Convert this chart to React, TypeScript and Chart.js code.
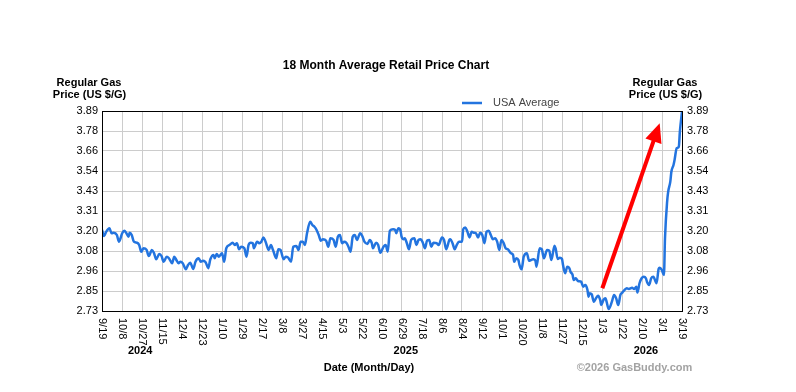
import { useEffect, useRef } from 'react';
import { Chart, registerables } from 'chart.js';

Chart.register(...registerables);

const FONT = "Arial, 'Liberation Sans', sans-serif";

const chartTitle = '18 Month Average Retail Price Chart';
const seriesLabel = 'USA Average';
const yAxisTitle = ['Regular Gas', 'Price (US $/G)'];
const xAxisTitle = 'Date (Month/Day)';
const credit = '©2026 GasBuddy.com';

const xTickLabels = [
  '9/19', '10/8', '10/27', '11/15', '12/4', '12/23', '1/10', '1/29', '2/17', '3/8',
  '3/27', '4/15', '5/3', '5/22', '6/10', '6/29', '7/18', '8/6', '8/24', '9/12',
  '10/1', '10/20', '11/8', '11/27', '12/15', '1/3', '1/22', '2/10', '3/1', '3/19',
];
const yTickLabels = ['2.73', '2.85', '2.96', '3.08', '3.20', '3.31', '3.43', '3.54', '3.66', '3.78', '3.89'];
const yMin = 2.73;
const yMax = 3.89;
const xSpanDays = 546; // 9/19/2024 -> 3/19/2026

const yearLabels = ['2024', '2025', '2026'];
const yearDays = [36, 286, 512];

// days since 9/19/2024
const days = [
  0, 2, 4, 7, 9, 11, 14, 16, 19, 21,
  23, 25, 26, 28, 30, 33, 35, 37, 39, 42,
  44, 47, 49, 51, 54, 56, 58, 61, 63, 66,
  68, 70, 72, 74, 76, 79, 81, 83, 86, 88,
  91, 93, 95, 97, 98, 100, 102, 105, 106, 108,
  110, 113, 115, 117, 120, 123, 125, 127, 129, 131,
  134, 136, 138, 140, 142, 143, 146, 148, 150, 152,
  154, 157, 159, 161, 164, 166, 168, 171, 173, 175,
  178, 180, 183, 185, 187, 189, 191, 193, 196, 198,
  200, 202, 204, 206, 208, 211, 213, 215, 218, 220,
  222, 224, 226, 228, 230, 232, 234, 236, 238, 240,
  243, 245, 247, 250, 252, 254, 255, 258, 260, 262,
  265, 267, 269, 271, 274, 276, 277, 279, 281, 282,
  284, 285, 287, 289, 291, 294, 296, 298, 300, 302,
  304, 306, 308, 310, 312, 315, 317, 320, 322, 324,
  327, 328, 330, 332, 334, 336, 339, 340, 342, 344,
  346, 348, 350, 352, 354, 356, 358, 360, 362, 364,
  366, 368, 370, 372, 374, 376, 378, 380, 382, 385,
  387, 388, 390, 392, 393, 395, 397, 400, 402, 404,
  406, 408, 409, 412, 414, 416, 419, 421, 423, 426,
  427, 429, 431, 433, 434, 436, 438, 440, 441, 443,
  444, 446, 448, 451, 453, 455, 457, 458, 459, 461,
  463, 465, 467, 469, 470, 472, 474, 475, 477, 480,
  482, 484, 486, 488, 490, 492, 494, 496, 499, 501,
  503, 504, 506, 508, 510, 512, 513, 515, 517, 519,
  522, 524, 525, 527, 529, 530, 532, 533, 535, 536,
  538, 539, 541, 543, 544, 546,
];

const prices = [
  3.200, 3.165, 3.190, 3.210, 3.181, 3.184, 3.171, 3.132, 3.181, 3.196,
  3.181, 3.161, 3.184, 3.171, 3.132, 3.126, 3.113, 3.074, 3.094, 3.084,
  3.049, 3.084, 3.065, 3.030, 3.061, 3.049, 3.016, 3.045, 3.036, 3.007,
  3.045, 3.026, 3.007, 3.016, 3.007, 2.972, 2.997, 3.010, 2.974, 3.016,
  3.036, 3.016, 3.022, 3.016, 3.007, 2.978, 3.030, 3.055, 3.036, 3.061,
  3.045, 3.065, 3.016, 3.094, 3.113, 3.126, 3.113, 3.123, 3.088, 3.103,
  3.094, 3.045, 3.113, 3.126, 3.123, 3.094, 3.132, 3.123, 3.132, 3.157,
  3.132, 3.084, 3.113, 3.084, 3.036, 3.088, 3.084, 3.030, 3.045, 3.041,
  3.016, 3.103, 3.107, 3.084, 3.132, 3.132, 3.113, 3.181, 3.248, 3.229,
  3.219, 3.200, 3.171, 3.138, 3.146, 3.138, 3.103, 3.152, 3.142, 3.103,
  3.161, 3.171, 3.123, 3.132, 3.126, 3.103, 3.074, 3.161, 3.171, 3.142,
  3.181, 3.165, 3.132, 3.119, 3.142, 3.123, 3.094, 3.126, 3.113, 3.068,
  3.103, 3.113, 3.074, 3.196, 3.204, 3.200, 3.181, 3.210, 3.196, 3.161,
  3.146, 3.152, 3.123, 3.088, 3.142, 3.152, 3.113, 3.142, 3.146, 3.126,
  3.094, 3.138, 3.142, 3.103, 3.126, 3.123, 3.113, 3.157, 3.142, 3.088,
  3.142, 3.146, 3.123, 3.088, 3.113, 3.132, 3.132, 3.203, 3.215, 3.190,
  3.157, 3.190, 3.184, 3.181, 3.157, 3.184, 3.171, 3.123, 3.190, 3.196,
  3.171, 3.146, 3.152, 3.132, 3.084, 3.142, 3.126, 3.094, 3.088, 3.065,
  3.055, 3.016, 3.036, 3.026, 2.997, 2.972, 3.045, 3.065, 3.022, 3.026,
  3.030, 3.022, 2.987, 3.094, 3.088, 3.036, 3.084, 3.080, 3.026, 3.109,
  3.094, 3.032, 3.039, 3.032, 2.997, 2.949, 2.987, 2.978, 2.958, 2.939,
  2.910, 2.920, 2.904, 2.900, 2.871, 2.881, 2.852, 2.813, 2.833, 2.827,
  2.784, 2.804, 2.819, 2.794, 2.765, 2.794, 2.804, 2.784, 2.742, 2.784,
  2.823, 2.804, 2.765, 2.823, 2.838, 2.852, 2.862, 2.858, 2.865, 2.858,
  2.871, 2.838, 2.891, 2.920, 2.929, 2.920, 2.900, 2.881, 2.920, 2.929,
  2.891, 2.974, 2.981, 2.968, 2.939, 3.152, 3.364, 3.422, 3.480, 3.538,
  3.577, 3.606, 3.674, 3.683, 3.770, 3.886,
];

// annotation arrow, in data units (day, price)
const arrowFrom = { day: 471, price: 2.862 };
const arrowTo = { day: 525, price: 3.819 };

const LINE_COLOR = '#2374df';
const GRID_COLOR = '#cccccc';

const overlayPlugin = {
  id: 'overlay',
  afterDraw(chart: any) {
    const { ctx, chartArea: a, scales } = chart;
    const xs = scales.x;
    const ys = scales.y;
    ctx.save();

    // plot frame
    ctx.strokeStyle = '#000';
    ctx.lineWidth = 1;
    const L = Math.round(a.left) + 0.5;
    const T = Math.round(a.top) + 0.5;
    const R = Math.round(a.right) + 0.5;
    const B = Math.round(a.bottom) + 0.5;
    ctx.strokeRect(L, T, R - L, B - T);

    // x tick labels, rotated clockwise
    ctx.fillStyle = '#000';
    ctx.font = `11px ${FONT}`;
    ctx.textAlign = 'left';
    ctx.textBaseline = 'middle';
    xTickLabels.forEach((lab, i) => {
      const px = xs.getPixelForValue((i * xSpanDays) / (xTickLabels.length - 1));
      ctx.save();
      ctx.translate(px, a.bottom + 7);
      ctx.rotate(Math.PI / 2);
      ctx.fillText(lab, 0, 0);
      ctx.restore();
    });

    // year labels
    ctx.font = `bold 11px ${FONT}`;
    ctx.textAlign = 'center';
    ctx.textBaseline = 'middle';
    yearLabels.forEach((yr, i) => {
      ctx.fillText(yr, xs.getPixelForValue(yearDays[i]), 351);
    });

    // x axis title & credit
    ctx.fillText(xAxisTitle, 369, 367.5);
    ctx.fillStyle = '#a3a3a3';
    ctx.fillText(credit, 634.5, 367.5);

    // y axis titles
    ctx.fillStyle = '#000';
    ctx.fillText(yAxisTitle[0], 89, 83);
    ctx.fillText(yAxisTitle[1], 89.5, 94.5);
    ctx.fillText(yAxisTitle[0], 665, 83);
    ctx.fillText(yAxisTitle[1], 665.5, 94.5);

    // title
    ctx.font = `bold 12px ${FONT}`;
    ctx.fillText(chartTitle, 386, 65.5);

    // legend
    ctx.strokeStyle = LINE_COLOR;
    ctx.lineWidth = 2.5;
    ctx.beginPath();
    ctx.moveTo(462, 103);
    ctx.lineTo(482, 103);
    ctx.stroke();
    ctx.fillStyle = '#444';
    ctx.font = `11px ${FONT}`;
    ctx.textAlign = 'left';
    ctx.fillText(seriesLabel, 493, 102.5);

    // red arrow
    const x0 = xs.getPixelForValue(arrowFrom.day);
    const y0 = ys.getPixelForValue(arrowFrom.price);
    const x1 = xs.getPixelForValue(arrowTo.day);
    const y1 = ys.getPixelForValue(arrowTo.price);
    const dx = x1 - x0;
    const dy = y1 - y0;
    const len = Math.hypot(dx, dy);
    const ux = dx / len;
    const uy = dy / len;
    const headLen = 19;
    const headHalf = 8.5;
    const bx = x1 - ux * headLen;
    const by = y1 - uy * headLen;
    ctx.strokeStyle = '#ff0000';
    ctx.fillStyle = '#ff0000';
    ctx.lineWidth = 4;
    ctx.lineCap = 'butt';
    ctx.beginPath();
    ctx.moveTo(x0, y0);
    ctx.lineTo(bx + ux * 2, by + uy * 2);
    ctx.stroke();
    ctx.beginPath();
    ctx.moveTo(x1, y1);
    ctx.lineTo(bx - uy * headHalf, by + ux * headHalf);
    ctx.lineTo(bx + uy * headHalf, by - ux * headHalf);
    ctx.closePath();
    ctx.fill();

    ctx.restore();
  },
};

export default function App() {
  const canvasRef = useRef<HTMLCanvasElement | null>(null);

  useEffect(() => {
    document.body.style.margin = '0';
    const canvas = canvasRef.current;
    if (!canvas) return;

    const yTickValues = yTickLabels.map((_, i) => yMin + (i * (yMax - yMin)) / (yTickLabels.length - 1));
    const yTickOpts = {
      font: { family: FONT, size: 11 },
      color: '#000',
      callback: (_v: any, i: number) => yTickLabels[i],
    };

    const chart = new Chart(canvas, {
      type: 'line',
      data: {
        datasets: [
          {
            label: seriesLabel,
            data: days.map((d, i) => ({ x: d, y: prices[i] })),
            borderColor: LINE_COLOR,
            backgroundColor: LINE_COLOR,
            borderWidth: 2.5,
            pointRadius: 0,
            cubicInterpolationMode: 'monotone',
            fill: false,
          },
        ],
      },
      options: {
        responsive: false,
        animation: false,
        events: [],
        layout: { padding: { left: 72, right: 84, top: 111, bottom: 81 } },
        plugins: {
          legend: { display: false },
          title: { display: false },
          tooltip: { enabled: false },
        },
        scales: {
          x: {
            type: 'linear',
            min: 0,
            max: xSpanDays,
            ticks: { display: false },
            grid: { color: GRID_COLOR, drawTicks: false, lineWidth: 1 },
            border: { display: false },
            afterBuildTicks: (s: any) => {
              s.ticks = xTickLabels.map((_, i) => ({ value: (i * xSpanDays) / (xTickLabels.length - 1) }));
            },
            afterFit: (s: any) => {
              s.height = 0;
            },
          },
          y: {
            position: 'left',
            min: yMin,
            max: yMax,
            ticks: { ...yTickOpts, padding: 4 },
            grid: { color: GRID_COLOR, drawTicks: false, lineWidth: 1 },
            border: { display: false },
            afterBuildTicks: (s: any) => {
              s.ticks = yTickValues.map((v) => ({ value: v }));
            },
            afterFit: (s: any) => {
              s.width = 30;
            },
          },
          y2: {
            position: 'right',
            min: yMin,
            max: yMax,
            ticks: { ...yTickOpts, padding: 5 },
            grid: { display: false, drawTicks: false },
            border: { display: false },
            afterBuildTicks: (s: any) => {
              s.ticks = yTickValues.map((v) => ({ value: v }));
            },
            afterFit: (s: any) => {
              s.width = 30;
            },
          },
        },
      },
      plugins: [overlayPlugin],
    } as any);

    return () => chart.destroy();
  }, []);

  return (
    <canvas
      ref={canvasRef}
      width={796}
      height={392}
      style={{ display: 'block', width: '796px', height: '392px', background: '#fff' }}
    />
  );
}
